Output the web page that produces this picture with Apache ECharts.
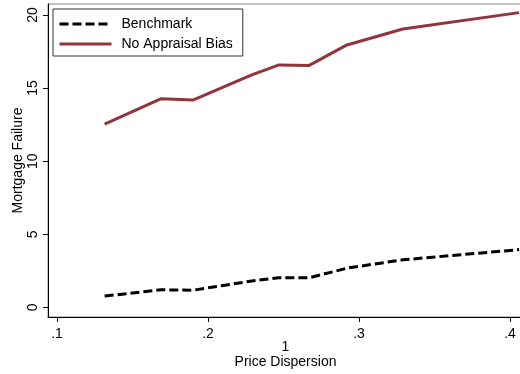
<!DOCTYPE html>
<html>
<head>
<meta charset="utf-8">
<script src="https://cdn.jsdelivr.net/npm/echarts@6/dist/echarts.min.js"></script>
<style>
  html, body { margin: 0; padding: 0; background: #fff; }
  #chart { width: 520px; height: 374px; }
</style>
</head>
<body>
<div id="chart"></div>
<script>
// Price dispersion grid points
const dispersion = [0.1315, 0.169, 0.19, 0.21, 0.229, 0.247, 0.267, 0.292, 0.329, 0.406];
// Mortgage failure rates (%)
const benchmark = [0.77, 1.2, 1.17, 1.5, 1.8, 2.03, 2.02, 2.68, 3.25, 3.95];
const noAppraisalBias = [12.53, 14.27, 14.18, 15.07, 15.9, 16.58, 16.55, 17.95, 19.04, 20.16];
// Axis ticks
const xTicks = [0.1, 0.2, 0.3, 0.4];
const yTicks = [0, 5, 10, 15, 20];

const FONT = 'Liberation Sans, Arial, sans-serif';
const pairs = (xs, ys) => xs.map((x, i) => [x, ys[i]]);

const chart = echarts.init(document.getElementById('chart'), null, { renderer: 'canvas' });
chart.setOption({
  animation: false,
  backgroundColor: '#fff',
  textStyle: { fontFamily: FONT, color: '#000' },
  grid: {
    left: 48, top: 4, right: -3, bottom: 57,
    containLabel: false,
    outerBoundsMode: 'none',
    show: true, borderColor: '#8a8a8a', borderWidth: 1, backgroundColor: 'transparent'
  },
  legend: {
    orient: 'vertical',
    left: 53, top: 9,
    padding: [8, 10, 5, 5],
    itemGap: 6,
    itemWidth: 52,
    itemHeight: 14,
    borderColor: '#333',
    borderWidth: 1,
    itemStyle: { opacity: 0, borderWidth: 0 },
    lineStyle: { width: 3 },
    textStyle: { fontFamily: FONT, fontSize: 14, color: '#000', padding: [0, 0, 0, 5] },
    data: ['Benchmark', 'No Appraisal Bias']
  },
  xAxis: {
    type: 'value',
    min: 0.094, max: 0.4086,
    name: '1\nPrice Dispersion',
    nameLocation: 'middle',
    nameGap: 23,
    nameMoveOverlap: false,
    nameTextStyle: { fontFamily: FONT, fontSize: 14, color: '#000', lineHeight: 15 },
    axisLine: { onZero: false, lineStyle: { color: '#000', width: 1 } },
    axisTick: { show: true, length: 5, customValues: xTicks, lineStyle: { color: '#000' } },
    axisLabel: {
      customValues: xTicks, margin: 10, fontSize: 14, color: '#000', fontFamily: FONT,
      formatter: v => String(Math.round(v * 10) / 10).replace(/^0/, '')
    },
    splitLine: { show: false }
  },
  yAxis: {
    type: 'value',
    min: -0.66, max: 20.75,
    name: 'Mortgage Failure',
    nameLocation: 'middle',
    nameGap: 23,
    nameMoveOverlap: false,
    nameTextStyle: { fontFamily: FONT, fontSize: 14, color: '#000' },
    axisLine: { show: true, onZero: false, lineStyle: { color: '#000', width: 1 } },
    axisTick: { show: true, length: 5, customValues: yTicks, lineStyle: { color: '#000' } },
    axisLabel: {
      customValues: yTicks, rotate: 90, margin: 8, fontSize: 14, color: '#000', fontFamily: FONT
    },
    splitLine: { show: false }
  },
  series: [
    {
      name: 'Benchmark',
      type: 'line',
      data: pairs(dispersion, benchmark),
      showSymbol: false,
      symbol: 'none',
      lineStyle: { color: '#000', width: 3, type: [9, 4] },
      itemStyle: { color: '#000' }
    },
    {
      name: 'No Appraisal Bias',
      type: 'line',
      data: pairs(dispersion, noAppraisalBias),
      showSymbol: false,
      symbol: 'none',
      lineStyle: { color: '#90353b', width: 3 },
      itemStyle: { color: '#90353b' }
    }
  ]
});
</script>
</body>
</html>
